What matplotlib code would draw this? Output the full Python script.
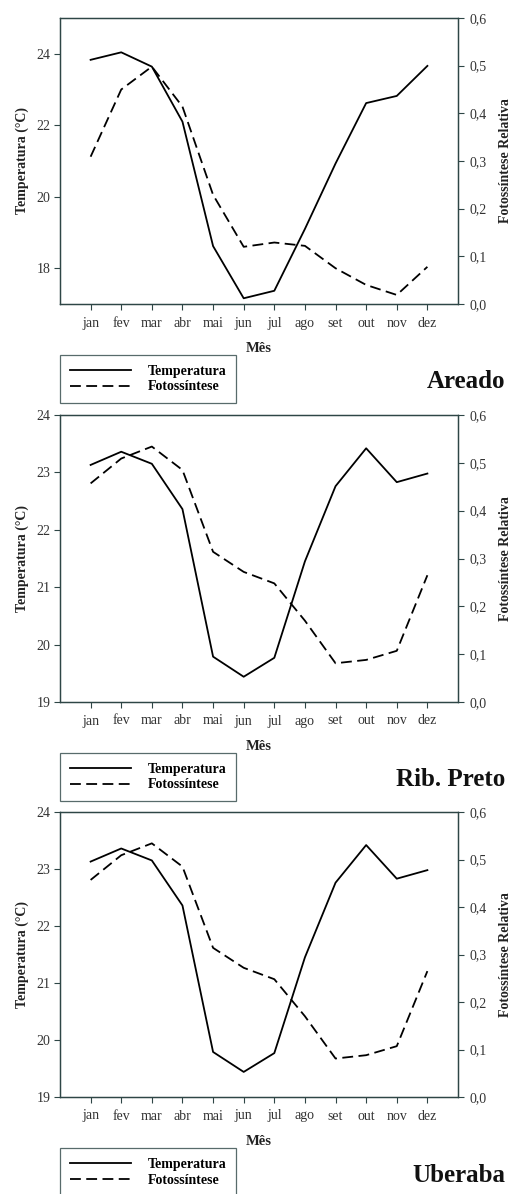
import matplotlib
matplotlib.use("Agg")
import matplotlib.pyplot as plt
from matplotlib.lines import Line2D
from matplotlib.ticker import FuncFormatter
import numpy as np

plt.rcParams['font.family'] = ['Liberation Serif', 'DejaVu Serif']

meses = ['jan', 'fev', 'mar', 'abr', 'mai', 'jun', 'jul', 'ago', 'set', 'out', 'nov', 'dez']

# Areado
temp_areado = [23.83, 24.04, 23.64, 22.10, 18.62, 17.16, 17.37, 19.10, 20.93, 22.62, 22.82, 23.66]
foto_areado = [0.309, 0.450, 0.498, 0.414, 0.229, 0.120, 0.129, 0.122, 0.075, 0.040, 0.019, 0.078]

# Rib. Preto
temp_ribpreto = [23.13, 23.36, 23.15, 22.36, 19.79, 19.44, 19.77, 21.45, 22.76, 23.42, 22.83, 22.98]
foto_ribpreto = [0.457, 0.509, 0.534, 0.485, 0.314, 0.272, 0.248, 0.170, 0.081, 0.088, 0.107, 0.265]

# Uberaba
temp_uberaba = [23.13, 23.36, 23.15, 22.36, 19.79, 19.44, 19.77, 21.45, 22.76, 23.42, 22.83, 22.98]
foto_uberaba = [0.457, 0.509, 0.534, 0.485, 0.314, 0.272, 0.248, 0.170, 0.081, 0.088, 0.107, 0.265]

locais = ['Areado', 'Rib. Preto', 'Uberaba']
temps = [temp_areado, temp_ribpreto, temp_uberaba]
fotos = [foto_areado, foto_ribpreto, foto_uberaba]
temp_lims = [(17, 25), (19, 24), (19, 24)]
temp_ticks = [[18, 20, 22, 24], [19, 20, 21, 22, 23, 24], [19, 20, 21, 22, 23, 24]]

W, H = 519, 1194
fig = plt.figure(figsize=(W / 100, H / 100), dpi=100)

spine_col = '#2e4646'
txt_col = '#333333'

# pixel boxes: (top, bottom) of each axes
boxes = [(18, 304), (415, 702), (812, 1097)]
x0, x1 = 60, 458

def comma(v, pos):
    return f"{v:.1f}".replace('.', ',')

for k in range(3):
    top, bot = boxes[k]
    ax = fig.add_axes([x0 / W, 1 - bot / H, (x1 - x0) / W, (bot - top) / H])
    x = np.arange(len(meses))
    ax.plot(x, temps[k], color='black', lw=1.3)
    ax.set_xlim(-1, 12)
    ax.set_ylim(*temp_lims[k])
    ax.set_yticks(temp_ticks[k])
    ax.set_xticks(x)
    ax.set_xticklabels(meses)
    ax.tick_params(axis='x', direction='out', length=4, width=0.8, color=spine_col,
                   labelsize=10, labelcolor=txt_col, pad=5)
    ax.tick_params(axis='y', direction='out', length=4, width=0.8, color=spine_col,
                   labelsize=10, labelcolor=txt_col, pad=3)
    ax.set_xlabel('Mês', fontsize=10.5, fontweight='bold', labelpad=9, color='#222222')
    ax.set_ylabel('Temperatura (°C)', fontsize=10, fontweight='bold', labelpad=5, color='#222222')

    ax2 = ax.twinx()
    ax2.plot(x, fotos[k], color='black', lw=1.3, dashes=(6, 3))
    ax2.set_ylim(0, 0.6)
    ax2.set_yticks([0, 0.1, 0.2, 0.3, 0.4, 0.5, 0.6])
    ax2.yaxis.set_major_formatter(FuncFormatter(comma))
    ax2.tick_params(direction='out', length=4, width=0.8, color=spine_col,
                    labelsize=10, labelcolor=txt_col, pad=4)
    ax2.set_ylabel('Fotossíntese Relativa', fontsize=10, fontweight='bold', labelpad=9, color='#222222')

    for a in (ax, ax2):
        for s in a.spines.values():
            s.set_color(spine_col)
            s.set_linewidth(0.9)

    handles = [Line2D([], [], color='black', lw=1.3),
               Line2D([], [], color='black', lw=1.3, dashes=(6, 3))]
    leg = ax.legend(handles, ['Temperatura', 'Fotossíntese'],
                    loc='upper left', bbox_to_anchor=(x0 / W, 1 - (bot + 51) / H),
                    bbox_transform=fig.transFigure, borderaxespad=0,
                    frameon=True, fancybox=False, edgecolor=spine_col,
                    prop={'weight': 'bold', 'size': 10}, handlelength=4.4,
                    handletextpad=1.2, labelspacing=0.2, borderpad=0.7)
    leg.get_frame().set_linewidth(0.9)

    fig.text(505 / W, 1 - (bot + 78) / H, locais[k], fontsize=18, fontweight='bold',
             ha='right', va='center', color='#111111')

fig.savefig('out.png', dpi=100)
